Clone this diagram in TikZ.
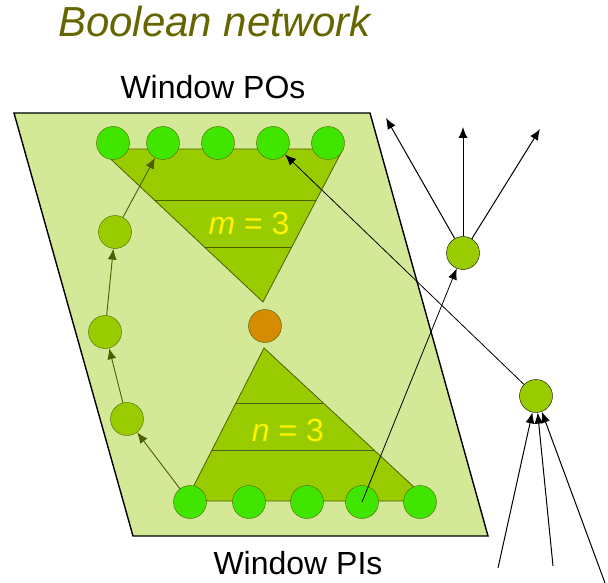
\documentclass[tikz,border=0pt]{standalone}
\usepackage{fontspec}
\setmainfont{Liberation Sans}
\usetikzlibrary{calc,arrows.meta}
\definecolor{winfill}{RGB}{212,233,152}
\definecolor{conefill}{RGB}{153,204,0}
\definecolor{pinfill}{RGB}{64,230,0}
\definecolor{rootfill}{RGB}{214,140,0}
\definecolor{edge}{RGB}{77,96,0}
\definecolor{titlecol}{RGB}{102,102,0}

\begin{document}
\begin{tikzpicture}[x=1pt, y=-1pt,
	pin/.style={circle, draw=edge, fill=pinfill, minimum size=33pt, inner sep=0pt},
	gate/.style={circle, draw=edge, fill=conefill, minimum size=33pt, inner sep=0pt},
	cone/.style={draw=edge, fill=conefill, line width=0.8pt},
	inarrow/.style={draw=edge, line width=0.9pt, -{Latex[length=11pt,width=9pt]}},
	outarrow/.style={draw=black, line width=1pt, -{Latex[length=11pt,width=9pt]}},
	label/.style={font=\fontsize{32}{38}\selectfont, anchor=base}]
	\useasboundingbox (0,0) rectangle (608,583);

	\node[anchor=base west, text=titlecol, font=\fontsize{42}{50}\selectfont\itshape, inner sep=0pt] (title) at (58,37) {Boolean network};
	\node[label] (polabel) at (213,99) {Window POs};
	\node[label] (pilabel) at (298,574) {Window PIs};

	\draw[fill=winfill, line width=1.4pt] (14,113) -- (370,113) -- (488,536) -- (133,536) -- cycle;

	\coordinate (ta) at (100,149);
	\coordinate (tb) at (343,149);
	\coordinate (tc) at (263,302);
	\coordinate (ba) at (264,348);
	\coordinate (bb) at (186,501);
	\coordinate (bc) at (429,501);

	\draw[cone] (ta) -- (tb) -- (tc) -- cycle;
	\draw[edge, line width=0.8pt] ($(ta)!0.333!(tc)$) -- ($(tb)!0.333!(tc)$);
	\draw[edge, line width=0.8pt] ($(ta)!0.64!(tc)$) -- ($(tb)!0.64!(tc)$);
	\draw[cone] (ba) -- (bb) -- (bc) -- cycle;
	\draw[edge, line width=0.8pt] ($(ba)!0.36!(bb)$) -- ($(ba)!0.36!(bc)$);
	\draw[edge, line width=0.8pt] ($(ba)!0.67!(bb)$) -- ($(ba)!0.67!(bc)$);

	\node[text=yellow, font=\fontsize{32}{38}\selectfont] (mlabel) at (249,223) {\textit{m} = 3};
	\node[text=yellow, font=\fontsize{32}{38}\selectfont] (nlabel) at (288,430) {\textit{n} = 3};

	\node[pin] (t1) at (113,143) {};
	\node[pin] (t2) at (163,143) {};
	\node[pin] (t3) at (218,143) {};
	\node[pin] (t4) at (273,143) {};
	\node[pin] (t5) at (328,143) {};

	\node[pin] (b1) at (190,502) {};
	\node[pin] (b2) at (249,502) {};
	\node[pin] (b3) at (307,502) {};
	\node[pin] (b4) at (362,502) {};
	\node[pin] (b5) at (420,502) {};

	\node[gate] (s1) at (127,419) {};
	\node[gate] (s2) at (105,332) {};
	\node[gate] (s3) at (115,232) {};
	\node[gate, fill=rootfill] (root) at (265,326) {};

	\node[gate, draw=black] (ga) at (463,253) {};
	\node[gate, draw=black] (gb) at (536,396) {};

	\coordinate (o1) at (386,118);
	\coordinate (o2) at (463,127);
	\coordinate (o3) at (540,129);
	\coordinate (i1) at (498,568);
	\coordinate (i2) at (553,566);
	\coordinate (i3) at (605,583);

	\draw[inarrow] (b1) -- (s1);
	\draw[inarrow] (s1) -- (s2);
	\draw[inarrow] (s2) -- (s3);
	\draw[inarrow] (s3) -- (t2);
	\draw[outarrow, line width=0.8pt] (b4.center) -- (ga);
	\draw[outarrow, line width=0.8pt] (gb) -- (t4);

	\draw[outarrow] (ga) -- (o1);
	\draw[outarrow] (ga) -- (o2);
	\draw[outarrow] (ga) -- (o3);
	\draw[outarrow] (i1) -- (gb);
	\draw[outarrow] (i2) -- (gb);
	\draw[outarrow] (i3) -- (gb);
\end{tikzpicture}
\end{document}
